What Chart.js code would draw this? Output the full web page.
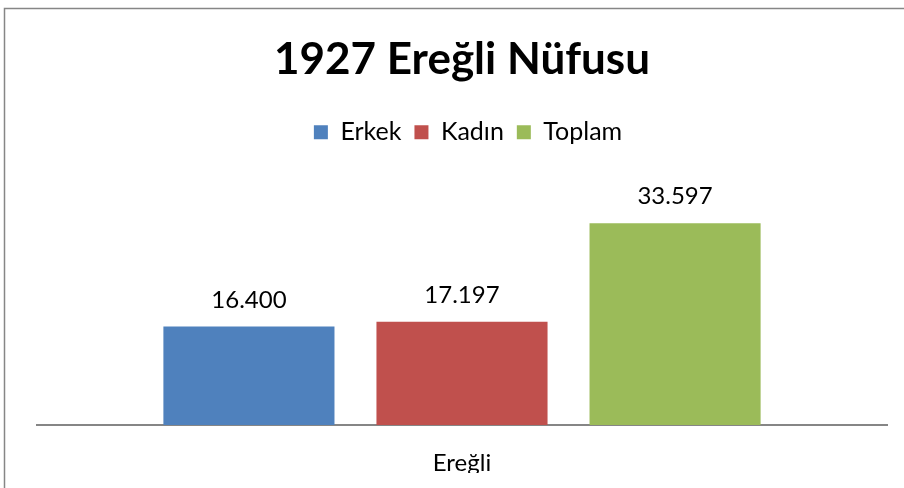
<!DOCTYPE html>
<html lang="tr">
<head>
<meta charset="UTF-8">
<title>1927 Ereğli Nüfusu</title>
<script src="https://cdn.jsdelivr.net/npm/chart.js"></script>
<style>
  html, body { margin: 0; padding: 0; background: #fff; }
  #wrap { width: 904px; height: 488px; }
</style>
</head>
<body>
<div id="wrap"><canvas id="myChart" width="904" height="488"></canvas></div>
<script>
const categories = ['Ereğli'];
const seriesNames = ['Erkek', 'Kadın', 'Toplam'];
const erkek = [16400];
const kadin = [17197];
const toplam = [33597];
const colors = ['#4f81bd', '#c0504d', '#9bbb59'];
const fontFamily = 'Lato, "Open Sans", sans-serif';

// 16400 -> "16.400"
function fmt(v) {
    return String(v).replace(/\B(?=(\d{3})+(?!\d))/g, '.');
}

const frame = {
    id: 'frame',
    beforeDraw(chart) {
        const ctx = chart.ctx;
        ctx.save();
        ctx.fillStyle = '#fff';
        ctx.fillRect(0, 0, chart.width, chart.height);
        ctx.strokeStyle = '#868686';
        ctx.lineWidth = 1.5;
        ctx.strokeRect(4.5, 8.5, 1200, 1200);
        ctx.restore();
    }
};

// extra room under the legend, like the Excel plot area,
// and legend nudged a bit right as in the original
const legendGap = {
    id: 'legendGap',
    beforeInit(chart) {
        const fit = chart.legend.fit;
        chart.legend.fit = function () {
            fit.call(this);
            this.height += 30;
        };
    },
    afterLayout(chart) {
        chart.legend.left += 6;
        chart.legend.right += 6;
    }
};

const valueLabels = {
    id: 'valueLabels',
    afterDatasetsDraw(chart) {
        const ctx = chart.ctx;
        ctx.save();
        ctx.font = '24px ' + fontFamily;
        ctx.fillStyle = '#000';
        ctx.textAlign = 'center';
        ctx.textBaseline = 'alphabetic';
        chart.data.datasets.forEach((ds, i) => {
            chart.getDatasetMeta(i).data.forEach((bar, j) => {
                ctx.fillText(fmt(ds.data[j]), bar.x, bar.y - 19);
            });
        });
        ctx.restore();
    }
};

const dataSets = [erkek, kadin, toplam].map((d, i) => ({
    label: seriesNames[i],
    data: d,
    backgroundColor: colors[i],
    borderWidth: 0
}));

new Chart(document.getElementById('myChart'), {
    type: 'bar',
    data: { labels: categories, datasets: dataSets },
    options: {
        responsive: false,
        animation: false,
        devicePixelRatio: 1,
        categoryPercentage: 0.752,
        barPercentage: 0.803,
        layout: { padding: { left: 37, right: 17, top: 0, bottom: 15 } },
        plugins: {
            tooltip: { enabled: false },
            title: {
                display: true,
                text: '1927 Ereğli Nüfusu',
                color: '#000',
                font: { family: fontFamily, size: 44, weight: 'bold' },
                padding: { top: 33, bottom: 21 }
            },
            legend: {
                display: true,
                position: 'top',
                labels: {
                    color: '#000',
                    font: { family: fontFamily, size: 25 },
                    boxWidth: 14,
                    boxHeight: 14,
                    padding: 13
                }
            }
        },
        scales: {
            x: {
                grid: { display: false, drawTicks: false },
                border: { display: true, color: '#868686', width: 2 },
                ticks: {
                    color: '#000',
                    font: { family: fontFamily, size: 24 },
                    padding: 24
                },
                afterFit(scale) { scale.height = 48; }
            },
            y: {
                display: false,
                min: 0,
                max: 40000
            }
        }
    },
    plugins: [frame, legendGap, valueLabels]
});
</script>
</body>
</html>
